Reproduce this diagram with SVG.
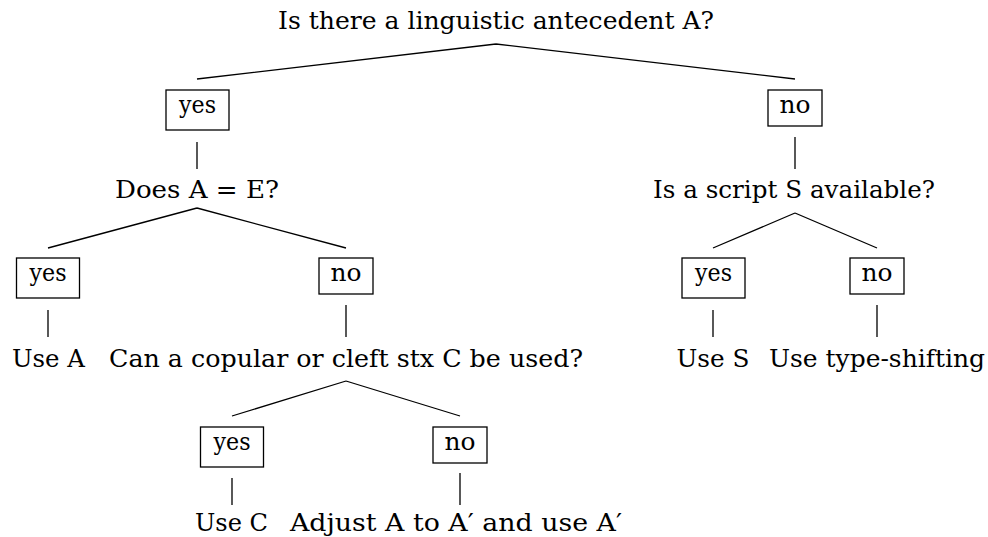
<svg xmlns="http://www.w3.org/2000/svg" width="988" height="537" viewBox="0 0 988 537">
<style>
text{font-family:"DejaVu Serif","Liberation Serif",serif;font-size:24px;fill:#000;text-anchor:middle}
.box{fill:#fff;stroke:#000;stroke-width:1.3}
.edge{stroke:#000;stroke-width:1.3;fill:none}
</style>
<rect width="988" height="537" fill="#fff"/>
<g id="connectors">
<path class="edge" d="M496,44 L197,79 M496,44 L795,79"/>
<path class="edge" d="M197,142 L197,169 M795,137 L795,169"/>
<path class="edge" d="M197,208 L48,248 M197,208 L346,248"/>
<path class="edge" d="M795,213 L713,248 M795,213 L877,248"/>
<path class="edge" d="M48,310 L48,337 M346,305 L346,337 M713,310 L713,337 M877,305 L877,337"/>
<path class="edge" d="M346,381 L232,416 M346,381 L460,416"/>
<path class="edge" d="M232,478 L232,505 M460,473 L460,505"/>
</g>
<g id="q-antecedent"><text x="496" y="29" textLength="436" lengthAdjust="spacingAndGlyphs">Is there a linguistic antecedent A?</text></g>
<g id="yes1"><rect class="box" x="166" y="90" width="63" height="40"/><text x="197.5" y="113" textLength="37" lengthAdjust="spacingAndGlyphs">yes</text></g>
<g id="no1"><rect class="box" x="768" y="90" width="54" height="36"/><text x="795" y="113" textLength="31" lengthAdjust="spacingAndGlyphs">no</text></g>
<g id="q-equal"><text x="197" y="198" textLength="164" lengthAdjust="spacingAndGlyphs">Does A = E?</text></g>
<g id="q-script"><text x="794" y="198" textLength="282" lengthAdjust="spacingAndGlyphs">Is a script S available?</text></g>
<g id="yes2"><rect class="box" x="16.5" y="258" width="63" height="40"/><text x="48" y="281" textLength="37" lengthAdjust="spacingAndGlyphs">yes</text></g>
<g id="no2"><rect class="box" x="319" y="258" width="54" height="36"/><text x="346" y="281" textLength="31" lengthAdjust="spacingAndGlyphs">no</text></g>
<g id="yes3"><rect class="box" x="682" y="258" width="63" height="40"/><text x="713.5" y="281" textLength="37" lengthAdjust="spacingAndGlyphs">yes</text></g>
<g id="no3"><rect class="box" x="850" y="258" width="54" height="36"/><text x="877" y="281" textLength="31" lengthAdjust="spacingAndGlyphs">no</text></g>
<g id="use-a"><text x="48.5" y="367" textLength="73" lengthAdjust="spacingAndGlyphs">Use A</text></g>
<g id="q-copular"><text x="346" y="367" textLength="474" lengthAdjust="spacingAndGlyphs">Can a copular or cleft stx C be used?</text></g>
<g id="use-s"><text x="713" y="367" textLength="73" lengthAdjust="spacingAndGlyphs">Use S</text></g>
<g id="use-typeshift"><text x="877" y="367" textLength="216" lengthAdjust="spacingAndGlyphs">Use type-shifting</text></g>
<g id="yes4"><rect class="box" x="200.5" y="427" width="63" height="40"/><text x="232" y="450" textLength="37" lengthAdjust="spacingAndGlyphs">yes</text></g>
<g id="no4"><rect class="box" x="433" y="427" width="54" height="36"/><text x="460" y="450" textLength="31" lengthAdjust="spacingAndGlyphs">no</text></g>
<g id="use-c"><text x="231.5" y="531" textLength="73" lengthAdjust="spacingAndGlyphs">Use C</text></g>
<g id="adjust"><text x="456" y="531" textLength="332" lengthAdjust="spacingAndGlyphs">Adjust A to A′ and use A′</text></g>
</svg>
